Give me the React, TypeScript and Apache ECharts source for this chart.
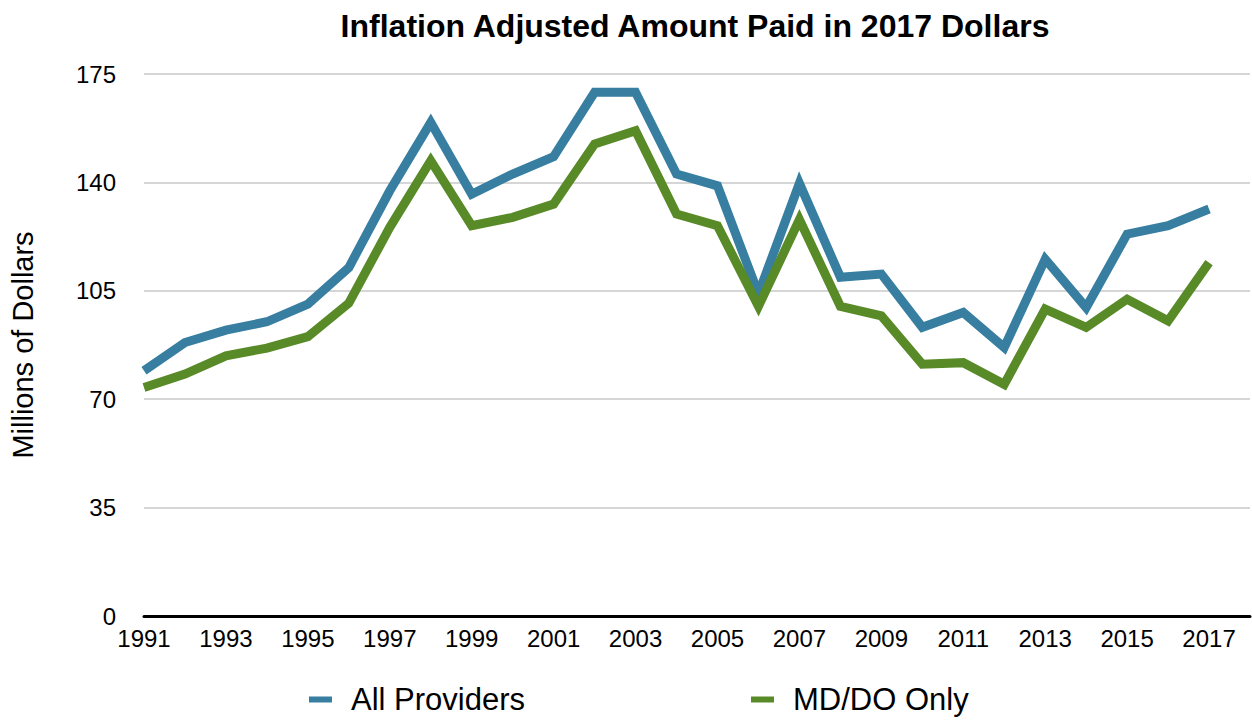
import React, { useEffect, useRef } from "react";
import * as echarts from "echarts";

const years: number[] = [
  1991, 1992, 1993, 1994, 1995, 1996, 1997, 1998, 1999, 2000, 2001, 2002, 2003, 2004,
  2005, 2006, 2007, 2008, 2009, 2010, 2011, 2012, 2013, 2014, 2015, 2016, 2017,
];
const allProviders: number[] = [
  79.2, 88.3, 92.3, 95.0, 100.7, 112.5, 137.3, 159.4, 136.2, 142.7, 148.3, 169.1, 169.1, 142.7,
  138.9, 104.0, 139.7, 109.4, 110.4, 93.2, 98.0, 86.7, 115.2, 99.6, 123.3, 126.0, 131.4,
];
const mdDoOnly: number[] = [
  73.8, 78.1, 84.0, 86.5, 90.2, 101.0, 125.5, 147.0, 126.0, 128.7, 133.0, 152.4, 156.7, 129.8,
  126.0, 100.0, 128.0, 100.0, 96.9, 81.3, 81.8, 74.8, 99.1, 93.2, 102.3, 95.3, 114.1,
];
const seriesNames: string[] = ["All Providers", "MD/DO Only"];
const titleText = "Inflation Adjusted Amount Paid in 2017 Dollars";
const yAxisName = "Millions of Dollars";

const FONT = "'Liberation Sans', Arial, Helvetica, sans-serif";

export default function App() {
  const ref = useRef<HTMLDivElement>(null);
  useEffect(() => {
    document.body.style.margin = "0";
    if (!ref.current) return;
    const chart = echarts.init(ref.current, null, { renderer: "svg" });
    const pairs = (vals: number[]) => years.map((y, i) => [y, vals[i]]);
    chart.setOption({
      animation: false,
      backgroundColor: "#ffffff",
      title: {
        text: titleText,
        left: 690,
        textAlign: "center",
        top: 5,
        textStyle: { fontFamily: FONT, fontWeight: "bold", fontSize: 32, color: "#000" },
      },
      legend: {
        left: 304,
        top: 679,
        itemGap: 226,
        itemWidth: 23,
        itemHeight: 6,
        icon: "rect",
        textStyle: { fontFamily: FONT, fontSize: 31, color: "#000", padding: [0, 0, 0, 14] },
        data: seriesNames,
      },
      grid: { left: 131, right: 2, top: 74, bottom: 104, containLabel: false },
      xAxis: {
        type: "value",
        min: 1991,
        max: 2018,
        interval: 2,
        axisLine: { show: true, lineStyle: { color: "#000", width: 3 } },
        axisTick: { show: false },
        splitLine: { show: false },
        axisLabel: {
          fontFamily: FONT,
          fontSize: 24,
          color: "#000",
          margin: 10,
          showMaxLabel: false,
          formatter: (v: number) => (v > 2017 ? "" : String(v)),
        },
      },
      yAxis: {
        type: "value",
        min: 0,
        max: 175,
        interval: 35,
        name: yAxisName,
        nameLocation: "middle",
        nameRotate: 90,
        nameGap: 107,
        nameTextStyle: { fontFamily: FONT, fontSize: 29, color: "#000" },
        axisLine: { show: false },
        axisTick: { show: false },
        splitLine: { show: true, lineStyle: { color: "#c8c8c8", width: 1.5 } },
        axisLabel: { fontFamily: FONT, fontSize: 24, color: "#000", margin: 28 },
      },
      series: [
        {
          name: seriesNames[0],
          type: "line",
          data: pairs(allProviders),
          symbol: "none",
          showSymbol: false,
          color: "#377ea1",
          lineStyle: { color: "#377ea1", width: 9, join: "miter", cap: "butt" },
          z: 2,
        },
        {
          name: seriesNames[1],
          type: "line",
          data: pairs(mdDoOnly),
          symbol: "none",
          showSymbol: false,
          color: "#588a27",
          lineStyle: { color: "#588a27", width: 9, join: "miter", cap: "butt" },
          z: 3,
        },
      ],
    });
    return () => chart.dispose();
  }, []);
  return <div ref={ref} style={{ width: 1252, height: 720 }} />;
}
